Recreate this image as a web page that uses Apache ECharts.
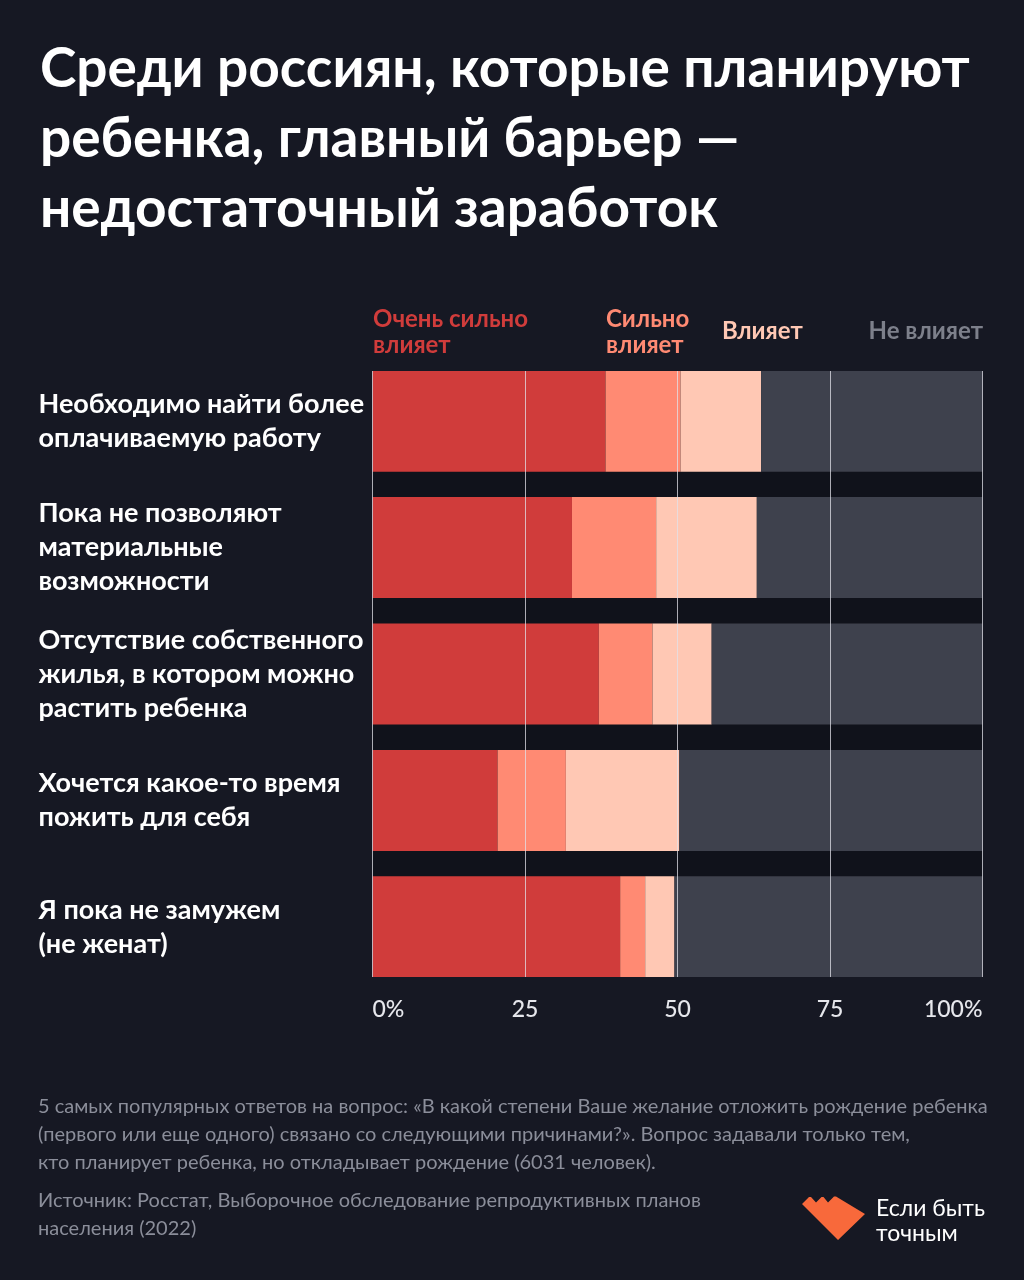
<!DOCTYPE html>
<html><head><meta charset="utf-8">
<script src="https://cdn.jsdelivr.net/npm/echarts@6/dist/echarts.min.js"></script>
<style>html,body{margin:0;padding:0;background:#161823;}#c{width:1024px;height:1280px;}</style>
</head><body><div id="c"></div>
<script>
const categories = [
  'Необходимо найти более\nоплачиваемую работу',
  'Пока не позволяют\nматериальные\nвозможности',
  'Отсутствие собственного\nжилья, в котором можно\nрастить ребенка',
  'Хочется какое-то время\nпожить для себя',
  'Я пока не замужем\n(не женат)'
];
const seriesNames = ['Очень сильно влияет', 'Сильно влияет', 'Влияет', 'Не влияет'];
const veryStrong = [38.2, 32.7, 37.1, 20.5, 40.6];
const strong     = [12.3, 13.8, 8.8, 11.2, 4.1];
const moderate   = [13.2, 16.5, 9.7, 18.6, 4.8];
const none       = [36.3, 37.0, 44.4, 49.7, 50.5];
const xTicks = [0, 25, 50, 75, 100];

const BG = '#161823';
const colors = ['#d03c3b', '#ff8a73', '#ffc8b4', '#3e414d'];
const FONT = 'Lato';

const chart = echarts.init(document.getElementById('c'), null, {renderer: 'canvas'});
const dataSets = [veryStrong, strong, moderate, none];

const option = {
  backgroundColor: BG,
  animation: false,
  grid: {left: 372.5, right: 41.5, top: 358, height: 632, show: true, backgroundColor: '#10121b', borderWidth: 0, containLabel: false},
  xAxis: {
    type: 'value', min: 0, max: 100, interval: 25, z: 10,
    axisLine: {show: false}, axisTick: {show: false},
    splitLine: {show: true, lineStyle: {color: 'rgba(225,226,234,0.75)', width: 1}},
    axisLabel: {
      color: '#e6e7ec', fontFamily: FONT, fontSize: 23, fontWeight: 500, margin: 8,
      alignMinLabel: 'left', alignMaxLabel: 'right',
      formatter: v => (v === 0 || v === 100) ? v + '%' : String(v)
    }
  },
  yAxis: {
    type: 'category', data: categories, inverse: true,
    axisLine: {show: false}, axisTick: {show: false}, splitLine: {show: false},
    axisLabel: {
      color: '#ffffff', fontFamily: FONT, fontWeight: 'bold', fontSize: 27,
      lineHeight: 34, align: 'left', margin: 334
    }
  },
  series: dataSets.map((d, i) => ({
    name: seriesNames[i], type: 'bar', stack: 'total', data: d,
    barWidth: 101, itemStyle: {color: colors[i]}, z: 2
  })),
  graphic: [
    {type: 'rect', z: 100, shape: {x: 370, y: 356, width: 616, height: 15}, style: {fill: BG}},
    {type: 'rect', z: 100, shape: {x: 370, y: 977, width: 616, height: 14}, style: {fill: BG}},
    {type: 'text', left: 40, top: 34, style: {text: 'Среди россиян, которые планируют\nребенка, главный барьер —\nнедостаточный заработок', fill: '#ffffff', font: 'bold 55px Lato', lineHeight: 70}},
    {type: 'text', x: 373, y: 332, style: {text: 'Очень сильно\nвлияет', fill: colors[0], font: 'bold 24px Lato', lineHeight: 26, verticalAlign: 'middle'}},
    {type: 'text', x: 606, y: 332, style: {text: 'Сильно\nвлияет', fill: colors[1], font: 'bold 24px Lato', lineHeight: 26, verticalAlign: 'middle'}},
    {type: 'text', x: 722, y: 331, style: {text: 'Влияет', fill: colors[2], font: 'bold 24px Lato', verticalAlign: 'middle'}},
    {type: 'text', x: 983, y: 331, style: {text: 'Не влияет', fill: '#7d808b', font: 'bold 24px Lato', align: 'right', verticalAlign: 'middle'}},
    {type: 'text', x: 38, y: 1135, style: {text: '5 самых популярных ответов на вопрос: «В какой степени Ваше желание отложить рождение ребенка\n(первого или еще одного) связано со следующими причинами?». Вопрос задавали только тем,\nкто планирует ребенка, но откладывает рождение (6031 человек).', fill: '#8b8e9a', font: '20px Lato', lineHeight: 28, verticalAlign: 'middle'}},
    {type: 'text', x: 38, y: 1215, style: {text: 'Источник: Росстат, Выборочное обследование репродуктивных планов\nнаселения (2022)', fill: '#8b8e9a', font: '20px Lato', lineHeight: 28, verticalAlign: 'middle'}},
    {type: 'polygon', shape: {points: [[802,1204],[809,1197],[811,1197],[816,1202.5],[821.5,1197],[823.5,1197],[828,1202.5],[834,1196.5],[836,1196.5],[865,1214],[838,1240]]}, style: {fill: '#f8693b'}},
    {type: 'text', x: 876, y: 1221, style: {text: 'Если быть\nточным', fill: '#ffffff', font: '23px Lato', lineHeight: 25, verticalAlign: 'middle'}}
  ]
};
chart.setOption(option);
</script></body></html>
